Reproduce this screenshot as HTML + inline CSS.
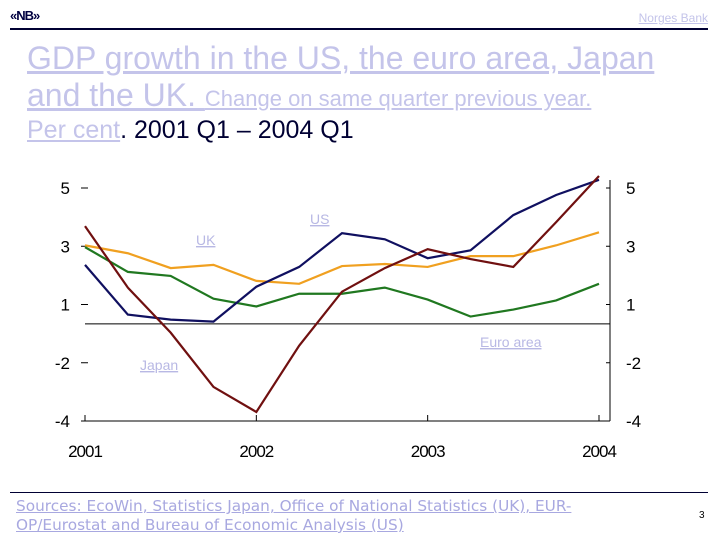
<!DOCTYPE html>
<html><head><meta charset="utf-8"><style>
body{margin:0;width:720px;height:540px;background:#fff;overflow:hidden;font-family:"Liberation Sans",sans-serif;position:relative}
.lav{color:#c4c4ea;text-decoration:underline}
.abs{position:absolute}
</style></head><body>
<div class="abs" style="left:10px;top:8px;font-size:13px;font-weight:bold;color:#000040;letter-spacing:-1px">«NB»</div>
<div class="abs lav" style="right:12px;top:11px;font-size:12px">Norges Bank</div>
<div class="abs" style="left:10px;top:28px;width:698px;height:2px;background:#000033"></div>
<div class="abs" style="left:27px;top:40px;font-size:32px;line-height:37px;color:#000033;width:700px">
<span class="lav">GDP growth in the US, the euro area, Japan<br>and the UK. </span><span class="lav" style="font-size:22px">Change on same quarter previous year.</span></div>
<div class="abs" style="left:27px;top:116px;font-size:25px;color:#000033"><span class="lav">Per cent</span>. 2001 Q1 – 2004 Q1</div>
<svg class="abs" style="left:0;top:0" width="720" height="540" id="chart"></svg>
<div class="abs" style="left:10px;top:492px;width:698px;height:1px;background:#000033"></div>
<div class="abs lav" style="left:16px;top:497px;font-family:'DejaVu Sans',sans-serif;font-size:15.3px;line-height:19px;color:#a8a8e0">Sources: EcoWin, Statistics Japan, Office of National Statistics (UK), EUR-<br>OP/Eurostat and Bureau of Economic Analysis (US)</div>
<div class="abs" style="left:699px;top:510px;font-size:10px">3</div>
<script>
const yTicks=[5,3,1,-2,-4];
const xYears=["2001","2002","2003","2004"];
const usVals=[2.36,0.48,0.22,0.12,1.61,2.29,3.45,3.24,2.59,2.86,4.07,4.76,5.28];
const ukVals=[3.03,2.76,2.25,2.36,1.81,1.71,2.32,2.39,2.29,2.66,2.66,3.03,3.48];
const euroVals=[2.97,2.12,1.98,1.2,0.9,1.37,1.37,1.58,1.17,0.38,0.74,1.14,1.71];
const japanVals=[3.69,1.58,-0.45,-2.83,-3.69,-1.12,1.44,2.25,2.9,2.56,2.29,3.83,5.41];
const svg=document.getElementById('chart');const NS='http://www.w3.org/2000/svg';
const X0=85,X1=599,TOP=188,BOT=421,RIGHT=610;
const step=(BOT-TOP)/(yTicks.length-1);
function y(v){for(let i=0;i<yTicks.length-1;i++){const a=yTicks[i],b=yTicks[i+1];if(v>=b||i==yTicks.length-2){return TOP+step*(i+(a-v)/(a-b));}}}
function x(q){return X0+(X1-X0)*q/12;}
function mk(t,a){const e=document.createElementNS(NS,t);for(const k in a)e.setAttribute(k,a[k]);svg.appendChild(e);return e;}
let e;
e=mk('line',{x1:X0,x2:RIGHT,y1:BOT,y2:BOT,stroke:'#000'});


e=mk('line',{x1:RIGHT,x2:RIGHT,y1:TOP-8,y2:BOT,stroke:'#000'});


e=mk('line',{x1:X0,x2:RIGHT,y1:y(0),y2:y(0),stroke:'#000'});


yTicks.forEach(v=>{const yy=y(v);
mk('line',{x1:X0-4,x2:X0+3,y1:yy,y2:yy,stroke:'#000'});
mk('line',{x1:RIGHT-4,x2:RIGHT,y1:yy,y2:yy,stroke:'#000'});
e=mk('text',{x:70,y:yy+6,'text-anchor':'end','font-size':17});e.textContent=v;


e=mk('text',{x:626,y:yy+6,'font-size':17});e.textContent=v;

});
xYears.forEach((t,i)=>{const xx=x(i*4);
mk('line',{x1:xx,x2:xx,y1:BOT-6,y2:BOT,stroke:'#000'});
e=mk('text',{x:xx,y:457,'text-anchor':'middle','font-size':17,'letter-spacing':'-1'});e.textContent=t;

});
[[ukVals,'#f0a020','uk-line'],[euroVals,'#207820','euro-area-line'],[usVals,'#101060','us-line'],[japanVals,'#701010','japan-line']].forEach(([d,c,n])=>{
e=mk('polyline',{points:d.map((v,i)=>x(i)+','+y(v)).join(' '),fill:'none',stroke:c,'stroke-width':2.2});

});
[['US',310,224,'us-label'],['UK',196,245,'uk-label'],['Euro area',480,347,'euro-area-label'],['Japan',140,370,'japan-label']].forEach(([t,a,b,n])=>{
e=mk('text',{x:a,y:b,'font-size':14,fill:'#b8b8e4','text-decoration':'underline'});e.textContent=t;

});
</script>
</body></html>
